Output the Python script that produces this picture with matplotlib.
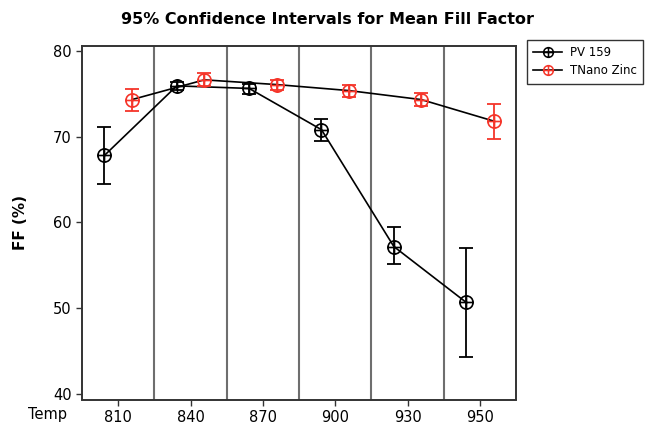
import numpy as np
import matplotlib
matplotlib.use("Agg")
import matplotlib.pyplot as plt
from matplotlib.lines import Line2D
from matplotlib.path import Path

# data
temps = ["810", "840", "870", "900", "930", "950"]

pv_mean = [67.8, 75.9, 75.6, 70.8, 57.2, 50.7]
pv_low = [64.5, 75.4, 75.0, 69.5, 55.2, 44.4]
pv_high = [71.1, 76.4, 76.1, 72.1, 59.5, 57.0]

tn_mean = [74.3, 76.6, 76.05, 75.35, 74.3, 71.8]
tn_low = [73.0, 75.9, 75.4, 74.6, 73.5, 69.7]
tn_high = [75.5, 77.4, 76.6, 76.05, 75.1, 73.8]

red = "#f5352a"
off = 0.19

# circle with a cross, like minitab's symbol
cross = Path([[-1, 0], [1, 0], [0, -1], [0, 1]],
             [Path.MOVETO, Path.LINETO, Path.MOVETO, Path.LINETO])
oplus = Path.make_compound_path(Path.unit_circle(), cross)

fig = plt.figure(figsize=(6.48, 4.25), dpi=100)
ax = fig.add_axes([0.1265, 0.06, 0.67, 0.832])

x = np.arange(len(temps))


def draw(xpos, mean, low, high, color):
    mean = np.array(mean)
    yerr = [mean - np.array(low), np.array(high) - mean]
    ax.plot(xpos, mean, color="black", lw=1.2, zorder=3)
    ax.errorbar(xpos, mean, yerr=yerr, fmt="none", ecolor=color,
                elinewidth=1.3, capsize=4.8, capthick=1.3, zorder=4)
    ax.plot(xpos, mean, ls="none", marker=oplus, ms=9.5, mfc="none",
            mec=color, mew=1.2, zorder=5)


draw(x - off, pv_mean, pv_low, pv_high, "black")
draw(x + off, tn_mean, tn_low, tn_high, red)

# panel separators
for b in x[:-1] + 0.5:
    ax.axvline(b, color="#6e6e6e", lw=1.5, zorder=1)

ax.set_xlim(-0.5, 5.5)
ax.set_ylim(39.4, 80.55)
ax.set_xticks(x)
ax.set_xticklabels(temps)
ax.set_yticks([40, 50, 60, 70, 80])
ax.tick_params(labelsize=10.5, length=4, width=1, direction="out", color="#333333")
for s in ax.spines.values():
    s.set_linewidth(1.4)
    s.set_color("#333333")

ax.set_ylabel("FF (%)", fontsize=11, fontweight="bold", labelpad=18)
fig.text(47 / 648, 1 - 414 / 425, "Temp", fontsize=10.5, ha="center", va="center")
fig.suptitle("95% Confidence Intervals for Mean Fill Factor",
             x=0.505, y=1 - 20 / 425, fontsize=11.5, fontweight="bold", va="center")

handles = [
    Line2D([0], [0], color="black", lw=1.2, marker=oplus, ms=7, mec="black", mfc="none", mew=1.1),
    Line2D([0], [0], color="black", lw=1.2, marker=oplus, ms=7, mec=red, mfc="none", mew=1.1),
]
ax.legend(handles, ["PV 159", "TNano Zinc"], loc="upper left",
          bbox_to_anchor=(527 / 648, 1 - 40 / 425), bbox_transform=fig.transFigure,
          fontsize=8.5, frameon=True, fancybox=False, edgecolor="black",
          handlelength=2.4, handletextpad=0.7, borderaxespad=0, borderpad=0.55,
          labelspacing=0.4)
ax.get_legend().get_frame().set_linewidth(1.0)

fig.savefig("out.png", dpi=100)
